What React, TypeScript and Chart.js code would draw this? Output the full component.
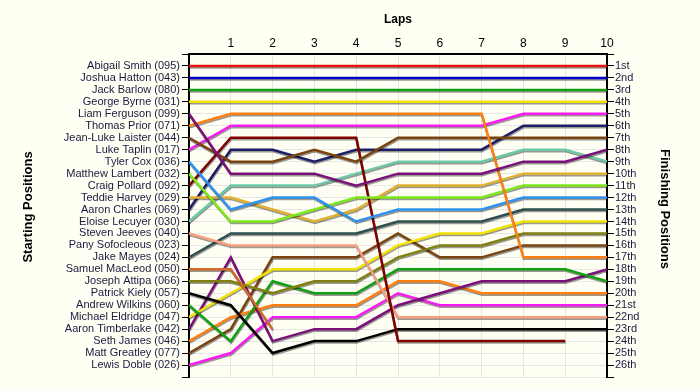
import { useEffect, useRef } from "react";
import { Chart, registerables } from "chart.js";

Chart.register(...registerables);

const laps = [0, 1, 2, 3, 4, 5, 6, 7, 8, 9, 10];

const starters = [
  "Abigail Smith (095)", "Joshua Hatton (043)", "Jack Barlow (080)", "George Byrne (031)",
  "Liam Ferguson (099)", "Thomas Prior (071)", "Jean-Luke Laister (044)", "Luke Taplin (017)",
  "Tyler Cox (036)", "Matthew Lambert (032)", "Craig Pollard (092)", "Teddie Harvey (029)",
  "Aaron Charles (069)", "Eloise Lecuyer (030)", "Steven Jeeves (040)", "Pany Sofocleous (023)",
  "Jake Mayes (024)", "Samuel MacLeod (050)", "Joseph Attipa (066)", "Patrick Kiely (057)",
  "Andrew Wilkins (060)", "Michael Eldridge (047)", "Aaron Timberlake (042)", "Seth James (046)",
  "Matt Greatley (077)", "Lewis Doble (026)",
];

const finishLabels = [
  "1st", "2nd", "3rd", "4th", "5th", "6th", "7th", "8th", "9th", "10th", "11th", "12th", "13th",
  "14th", "15th", "16th", "17th", "18th", "19th", "20th", "21st", "22nd", "23rd", "24th", "25th", "26th",
];

const xTitle = "Laps";
const leftTitle = "Starting Positions";
const rightTitle = "Finishing Positions";

const N = null;
const abigailSmith = [1, 1, 1, 1, 1, 1, 1, 1, 1, 1, 1];
const joshuaHatton = [2, 2, 2, 2, 2, 2, 2, 2, 2, 2, 2];
const jackBarlow = [3, 3, 3, 3, 3, 3, 3, 3, 3, 3, 3];
const georgeByrne = [4, 4, 4, 4, 4, 4, 4, 4, 4, 4, 4];
const liamFerguson = [5, 10, 10, 10, 11, 10, 10, 10, 9, 9, 8];
const thomasPrior = [6, 5, 5, 5, 5, 5, 5, 5, 17, 17, 17];
const jeanLukeLaister = [7, 9, 9, 8, 9, 7, 7, 7, 7, 7, 7];
const lukeTaplin = [8, 6, 6, 6, 6, 6, 6, 6, 5, 5, 5];
const tylerCox = [9, 13, 12, 12, 14, 13, 13, 13, 12, 12, 12];
const matthewLambert = [10, 14, 14, 13, 12, 12, 12, 12, 11, 11, 11];
const craigPollard = [11, 7, 7, 7, 7, 24, 24, 24, 24, 24, N];
const teddieHarvey = [12, 12, 13, 14, 13, 11, 11, 11, 10, 10, 10];
const aaronCharles = [13, 8, 8, 9, 8, 8, 8, 8, 6, 6, 6];
const eloiseLecuyer = [14, 11, 11, 11, 10, 9, 9, 9, 8, 8, 9];
const stevenJeeves = [15, 16, 16, 16, 16, 22, 22, 22, 22, 22, 22];
const panySofocleous = [N, N, N, N, N, N, N, N, N, N, N];
const jakeMayes = [17, 15, 15, 15, 15, 14, 14, 14, 13, 13, 13];
const samuelMacLeod = [18, 18, 23, N, N, N, N, N, N, N, N];
const josephAttipa = [19, 19, 20, 19, 19, 17, 16, 16, 15, 15, 15];
const patrickKiely = [20, 21, 25, 24, 24, 23, 23, 23, 23, 23, 23];
const andrewWilkins = [21, 24, 19, 20, 20, 18, 18, 18, 18, 18, 19];
const michaelEldridge = [22, 20, 18, 18, 18, 16, 15, 15, 14, 14, 14];
const aaronTimberlake = [23, 17, 24, 23, 23, 21, 20, 19, 19, 19, 18];
const sethJames = [24, 22, 21, 21, 21, 19, 19, 20, 20, 20, 20];
const mattGreatley = [25, 23, 17, 17, 17, 15, 17, 17, 16, 16, 16];
const lewisDoble = [26, 25, 22, 22, 22, 20, 21, 21, 21, 21, 21];

const series = [
  abigailSmith, joshuaHatton, jackBarlow, georgeByrne, liamFerguson, thomasPrior,
  jeanLukeLaister, lukeTaplin, tylerCox, matthewLambert, craigPollard, teddieHarvey,
  aaronCharles, eloiseLecuyer, stevenJeeves, panySofocleous, jakeMayes, samuelMacLeod,
  josephAttipa, patrickKiely, andrewWilkins, michaelEldridge, aaronTimberlake, sethJames,
  mattGreatley, lewisDoble,
];

const colors = [
  "#e81010", "#0000c8", "#12a012", "#f2e200", "#7a107a", "#ff8010",
  "#7a4410", "#f81cf0", "#3092f0", "#7ee81a", "#800000", "#e0b030",
  "#1e1e68", "#6cc8a8", "#f7a080", "#999999", "#2e5050", "#d46a28",
  "#808010", "#000000", "#12a012", "#f2e200", "#7a107a", "#ff8010",
  "#7a4410", "#f81cf0",
];

const FONT = "'Liberation Sans', Arial, sans-serif";

const shadowPlugin = {
  id: "lineShadow",
  beforeDatasetDraw(chart: any) {
    const ctx = chart.ctx;
    ctx.save();
    ctx.shadowColor = "rgba(0,0,0,0.4)";
    ctx.shadowOffsetX = 0.5;
    ctx.shadowOffsetY = 1.5;
    ctx.shadowBlur = 0;
  },
  afterDatasetDraw(chart: any) {
    chart.ctx.restore();
  },
};

const sideTitlesPlugin = {
  id: "sideTitles",
  afterDraw(chart: any) {
    const ctx = chart.ctx;
    ctx.save();
    ctx.font = `bold 13px ${FONT}`;
    ctx.fillStyle = "#000";
    ctx.textAlign = "center";
    ctx.textBaseline = "middle";
    ctx.translate(28, 207);
    ctx.rotate(-Math.PI / 2);
    ctx.fillText(leftTitle, 0, 0);
    ctx.restore();
    ctx.save();
    ctx.font = `bold 13px ${FONT}`;
    ctx.fillStyle = "#000";
    ctx.textAlign = "center";
    ctx.textBaseline = "middle";
    ctx.translate(665, 209);
    ctx.rotate(Math.PI / 2);
    ctx.fillText(rightTitle, 0, 0);
    ctx.restore();
  },
};

export default function App() {
  const ref = useRef<HTMLCanvasElement>(null);

  useEffect(() => {
    if (!ref.current) return;
    const datasets = series.map((s, i) => ({
      label: starters[i],
      data: laps.map((lap, j) => ({ x: lap, y: s[j] })),
      borderColor: colors[i],
      backgroundColor: colors[i],
      borderWidth: 2.5,
      pointRadius: 0,
      tension: 0,
      spanGaps: false,
      yAxisID: "y",
    }));

    const chart = new Chart(ref.current, {
      type: "line",
      data: { datasets },
      plugins: [shadowPlugin, sideTitlesPlugin],
      options: {
        responsive: false,
        animation: false,
        layout: { padding: { left: 0, right: 0, top: 0, bottom: 13 } },
        plugins: { legend: { display: false }, tooltip: { enabled: false } },
        scales: {
          x: {
            type: "linear",
            position: "top",
            min: 0,
            max: 10,
            ticks: {
              stepSize: 1,
              padding: 3,
              color: "#000",
              font: { family: FONT, size: 12 },
              callback: (v: any) => (v === 0 ? "" : String(v)),
            },
            grid: { color: "#e6e6e6", drawTicks: false },
            border: { color: "#000", width: 2 },
            title: {
              display: true,
              text: xTitle,
              color: "#000",
              font: { family: FONT, size: 12, weight: "bold" },
              padding: { top: 12, bottom: 0 },
            },
            afterFit: (s: any) => {
              s.height = 54;
            },
          },
          y: {
            type: "linear",
            position: "left",
            min: 0,
            max: 27,
            reverse: true,
            ticks: {
              stepSize: 1,
              autoSkip: false,
              padding: 2,
              color: "#1a1a40",
              font: { family: FONT, size: 11 },
              callback: (v: any) => starters[v - 1] ?? "",
            },
            grid: { color: "#e6e6e6", tickColor: "#000", tickLength: 7 },
            border: { color: "#000", width: 2 },
            title: { display: false },
            afterFit: (s: any) => {
              s.width = 189;
            },
          },
          y2: {
            type: "linear",
            position: "right",
            min: 0,
            max: 27,
            reverse: true,
            ticks: {
              stepSize: 1,
              autoSkip: false,
              padding: 1,
              color: "#1a1a40",
              font: { family: FONT, size: 11 },
              callback: (v: any) => finishLabels[v - 1] ?? "",
            },
            grid: { drawOnChartArea: false, tickColor: "#000", tickLength: 7 },
            border: { color: "#000", width: 2 },
            title: { display: false },
            afterFit: (s: any) => {
              s.width = 93;
            },
          },
        },
      },
    } as any);
    return () => chart.destroy();
  }, []);

  return (
    <div style={{ position: "absolute", left: 0, top: 0, width: 700, height: 390, background: "#fffff4" }}>
      <canvas ref={ref} width={700} height={390} style={{ display: "block" }} />
    </div>
  );
}
